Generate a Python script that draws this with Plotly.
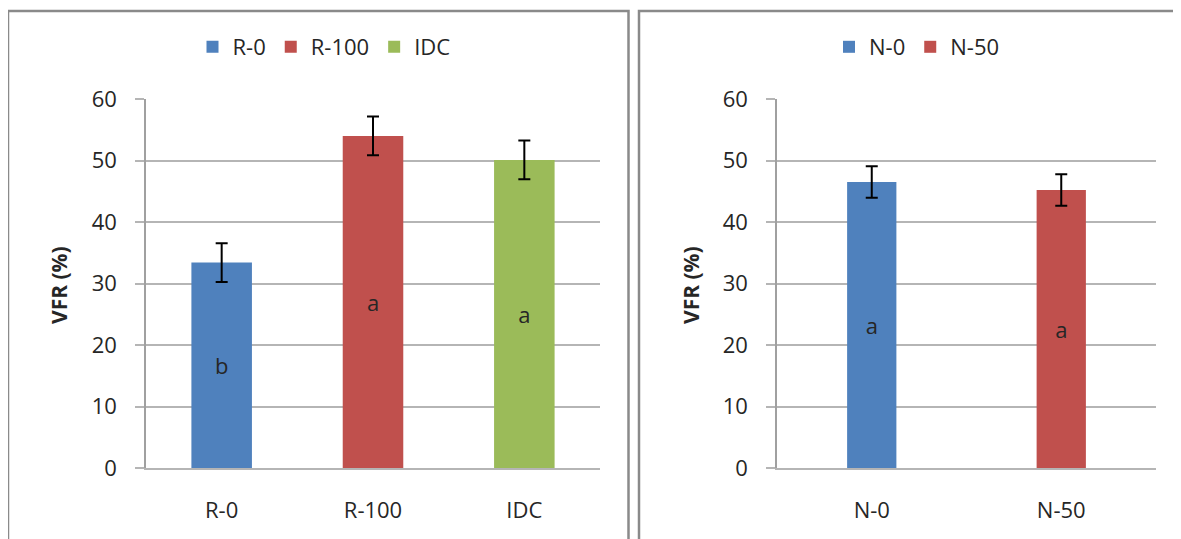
import plotly.graph_objects as go

# ---- data ----
cats_left = ["R-0", "R-100", "IDC"]
vfr_left = [33.4, 54.0, 50.1]
err_left = [3.15, 3.15, 3.15]
letters_left = ["b", "a", "a"]

cats_right = ["N-0", "N-50"]
vfr_right = [46.5, 45.2]
err_right = [2.55, 2.55]
letters_right = ["a", "a"]

y_ticks = [0, 10, 20, 30, 40, 50, 60]

colors_left = ["#4F81BD", "#C0504D", "#9BBB59"]
colors_right = ["#4F81BD", "#C0504D"]

W, H = 1181, 539
OFF = 8  # page body offset
FONT = "Open Sans"
TXT = "#262626"
GRID = "#b5b5b5"
AX = "#a0a0a0"
FRAME = "#8a8a8a"
FS = 22


def px(x):
    return (x - OFF) / W


def py(y):
    return 1 - (y - OFF) / H


fig = go.Figure()

for c, v, e, t, col in zip(cats_left, vfr_left, err_left, letters_left, colors_left):
    fig.add_trace(go.Bar(
        x=[c], y=[v], name=c, width=0.4, marker=dict(color=col, line=dict(width=0)),
        error_y=dict(type="data", array=[e], color="black", thickness=2, width=6),
        text=[t], textposition="inside", insidetextanchor="middle", textangle=0,
        textfont=dict(family=FONT, size=FS, color=TXT),
        xaxis="x", yaxis="y", legend="legend",
    ))

for c, v, e, t, col in zip(cats_right, vfr_right, err_right, letters_right, colors_right):
    fig.add_trace(go.Bar(
        x=[c], y=[v], name=c, width=0.26, marker=dict(color=col, line=dict(width=0)),
        error_y=dict(type="data", array=[e], color="black", thickness=2, width=6),
        text=[t], textposition="inside", insidetextanchor="middle", textangle=0,
        textfont=dict(family=FONT, size=FS, color=TXT),
        xaxis="x2", yaxis="y2", legend="legend2",
    ))

yax = dict(
    range=[0, 60], tickvals=y_ticks, showgrid=True, gridcolor=GRID, gridwidth=2,
    zeroline=False, showline=True, linecolor=AX, linewidth=1.5,
    ticks="outside", ticklen=9, tickcolor=GRID, tickwidth=2,
    ticklabelstandoff=14, tickfont=dict(family=FONT, size=FS, color=TXT),
    fixedrange=True, automargin=False,
)
xax = dict(
    showgrid=False, zeroline=False, showline=True, linecolor=GRID, linewidth=2,
    ticks="", ticklabelstandoff=22, tickfont=dict(family=FONT, size=FS, color=TXT),
    automargin=False,
)

fig.update_layout(
    width=W, height=H,
    margin=dict(l=0, r=0, t=0, b=0, autoexpand=False),
    paper_bgcolor="white", plot_bgcolor="white",
    barmode="overlay",
    xaxis=dict(domain=[px(146), px(600)], anchor="y", categoryorder="array",
               categoryarray=cats_left, **xax),
    yaxis=dict(domain=[py(468), py(99)], anchor="x", **yax),
    xaxis2=dict(domain=[px(777), px(1156)], anchor="y2", categoryorder="array",
                categoryarray=cats_right, **xax),
    yaxis2=dict(domain=[py(468), py(99)], anchor="x2", **yax),
    legend=dict(orientation="h", x=px(324), xanchor="center", y=py(47), yanchor="middle",
                font=dict(family=FONT, size=FS, color=TXT), bgcolor="rgba(0,0,0,0)"),
    legend2=dict(orientation="h", x=px(917), xanchor="center", y=py(47), yanchor="middle",
                 font=dict(family=FONT, size=FS, color=TXT), bgcolor="rgba(0,0,0,0)"),
    showlegend=True,
)

# y-axis titles
for xc in (59, 691):
    fig.add_annotation(
        text="<b>VFR (%)</b>", x=px(xc), y=py(285), xref="paper", yref="paper",
        textangle=-90, showarrow=False, xanchor="center", yanchor="middle",
        font=dict(family=FONT, size=21, color=TXT),
    )

# chart frames (open at the image edges)
bot, top = py(600), py(11)
fig.add_shape(type="path", xref="paper", yref="paper",
              path=f"M {px(8)},{bot} L {px(8)},{top} L {px(628.5)},{top} L {px(628.5)},{bot}",
              line=dict(color=FRAME, width=2.5), layer="below")
fig.add_shape(type="path", xref="paper", yref="paper",
              path=f"M {px(639)},{bot} L {px(639)},{top} L {px(1300)},{top}",
              line=dict(color=FRAME, width=2.5), layer="below")

fig.write_html("out.html", config={"displayModeBar": False})
